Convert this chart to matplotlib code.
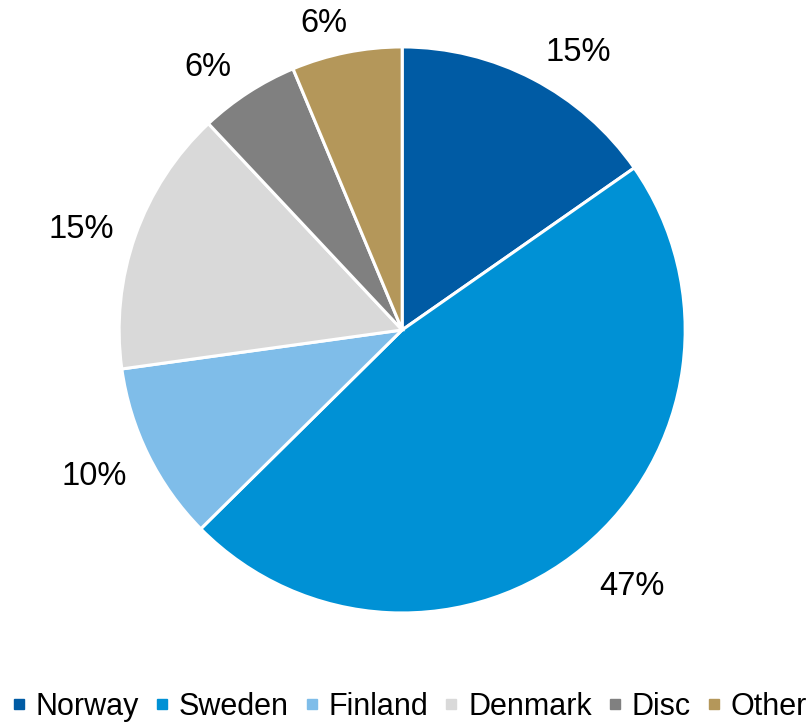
import numpy as np
import matplotlib.pyplot as plt
from matplotlib.lines import Line2D

plt.rcParams['font.family'] = ['Liberation Sans', 'DejaVu Sans']

countries = ['Norway', 'Sweden', 'Finland', 'Denmark', 'Disc', 'Other']
shares = [15.3, 47.3, 10.2, 15.2, 5.7, 6.3]
pct_labels = ['15%', '47%', '10%', '15%', '6%', '6%']
colors = ['#005BA4', '#0091D5', '#7FBDE9', '#D9D9D9', '#808080', '#B4975A']
# Excel-style label placement: distance in radii and small angle nudge (deg)
label_dist = [1.173, 1.205, 1.198, 1.194, 1.166, 1.13]
label_turn = [-4.5, 2.5, -1.4, 1.4, 3.1, 2.8]

fig = plt.figure(figsize=(8.1, 7.22), dpi=100)
ax = fig.add_axes([0.147, 0.151, 0.699, 0.784])

wedges, texts = ax.pie(shares, labels=pct_labels, colors=colors, startangle=90,
                       counterclock=False, labeldistance=1.18,
                       wedgeprops=dict(edgecolor='white', linewidth=2.2),
                       textprops=dict(fontsize=23.5))
for w, t, d, turn in zip(wedges, texts, label_dist, label_turn):
    mid = np.deg2rad((w.theta1 + w.theta2) / 2 + turn)
    # digits have no descenders, so drop the box a touch to look centred
    t.set_position((d * np.cos(mid), d * np.sin(mid) - 0.014))
    t.set_horizontalalignment('center')
    t.set_verticalalignment('center')
ax.set_xlim(-1, 1)
ax.set_ylim(-1, 1)
ax.set_aspect('equal')

handles = [Line2D([0], [0], marker='s', linestyle='', markersize=7.5,
                  markerfacecolor=c, markeredgecolor=c) for c in colors]
fig.legend(handles, countries, loc='lower center', ncol=6, frameon=False,
           fontsize=22, handlelength=0.5, handletextpad=0.3, columnspacing=0.5,
           bbox_to_anchor=(0.505, -0.038))

plt.savefig('out.png', dpi=100)
